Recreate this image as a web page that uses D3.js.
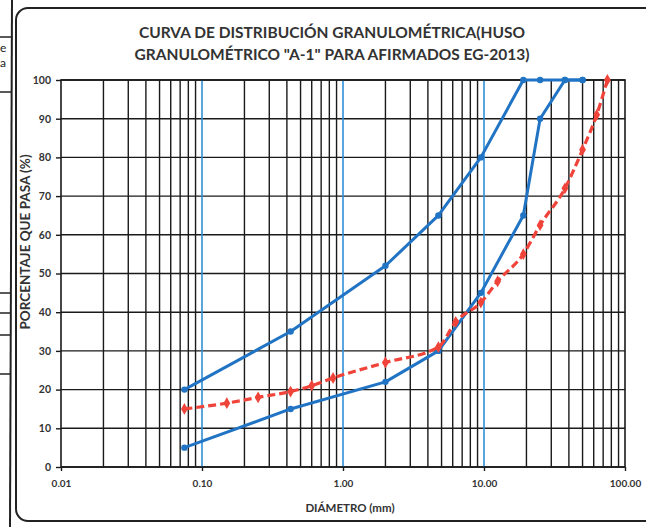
<!DOCTYPE html>
<html>
<head>
<meta charset="utf-8">
<script src="https://cdn.jsdelivr.net/npm/d3@7/dist/d3.min.js"></script>
<style>
  html, body { margin: 0; padding: 0; background: #fff; }
  svg { display: block; font-family: Lato, "Open Sans", sans-serif; }
</style>
</head>
<body>
<svg id="chart" width="646" height="527"></svg>
<script>
// Sieve openings (mm) and percent passing
const bandSizes = [0.075, 0.425, 2, 4.75, 9.5, 19, 25, 37.5, 50];
const upperLimit = [20, 35, 52, 65, 80, 100, 100, 100, 100];
const lowerLimit = [5, 15, 22, 30, 45, 65, 90, 100, 100];

const sampleSizes = [0.075, 0.15, 0.25, 0.425, 0.6, 0.85, 2, 4.75, 6.3, 9.5, 12.5, 19, 25, 37.5, 50, 63, 75];
const samplePassing = [15, 16.5, 18, 19.5, 21, 23, 27, 31, 37.5, 42.5, 48, 55, 62.5, 72, 82, 91, 100];

const xTickValues = [0.01, 0.1, 1, 10, 100];
const xTickLabels = ["0.01", "0.10", "1.00", "10.00", "100.00"];
const yTickValues = [0, 10, 20, 30, 40, 50, 60, 70, 80, 90, 100];

const titleLines = ["CURVA DE DISTRIBUCIÓN GRANULOMÉTRICA(HUSO", "GRANULOMÉTRICO \"A-1\" PARA AFIRMADOS EG-2013)"];

const svg = d3.select("#chart");
const plot = { left: 61, right: 625, top: 80, bottom: 467 };

const x = d3.scaleLog().domain([0.01, 100]).range([plot.left, plot.right]);
const y = d3.scaleLinear().domain([0, 100]).range([plot.bottom, plot.top]);

// Fragment of the neighbouring table on the left
const side = svg.append("g").attr("stroke", "#222").attr("fill", "none");
side.append("line").attr("x1", 12).attr("x2", 10).attr("y1", 0).attr("y2", 527).attr("stroke-width", 2);
[37, 92, 293, 313, 335, 374].forEach(v => {
  side.append("line").attr("x1", 0).attr("x2", 11).attr("y1", v).attr("y2", v).attr("stroke-width", 1.5);
});
svg.append("text").attr("x", 0).attr("y", 52).attr("font-size", 12).attr("fill", "#222").text("e");
svg.append("text").attr("x", 0).attr("y", 67).attr("font-size", 12).attr("fill", "#222").text("a");

// Chart frame
svg.append("rect")
  .attr("x", 16).attr("y", 8).attr("width", 700).attr("height", 513)
  .attr("rx", 12).attr("fill", "none").attr("stroke", "#222").attr("stroke-width", 2);

// Title
svg.append("g").selectAll("text").data(titleLines).join("text")
  .attr("x", 332).attr("y", (d, i) => 38 + i * 22)
  .attr("text-anchor", "middle")
  .attr("font-size", 15.5).attr("font-weight", "bold").attr("fill", "#333")
  .text(d => d);

// Grid: log minor lines and horizontal lines every 10 %
const minor = [];
for (let e = -2; e < 2; e++) {
  for (let m = 2; m <= 9; m++) minor.push(m * Math.pow(10, e));
}
const grid = svg.append("g").attr("stroke", "#1a1a1a").attr("stroke-width", 1.4);
grid.selectAll(".vx").data(minor).join("line")
  .attr("x1", d => x(d)).attr("x2", d => x(d))
  .attr("y1", plot.top).attr("y2", plot.bottom);
grid.selectAll(".hy").data(yTickValues).join("line")
  .attr("x1", plot.left).attr("x2", plot.right)
  .attr("y1", d => y(d)).attr("y2", d => y(d));

// Decade lines
svg.append("g").attr("stroke", "#2f8fd8").attr("stroke-width", 1.6)
  .selectAll("line").data([0.1, 1, 10]).join("line")
  .attr("x1", d => x(d)).attr("x2", d => x(d))
  .attr("y1", plot.top).attr("y2", plot.bottom);

// Plot border
svg.append("rect")
  .attr("x", plot.left).attr("y", plot.top)
  .attr("width", plot.right - plot.left).attr("height", plot.bottom - plot.top)
  .attr("fill", "none").attr("stroke", "#1a1a1a").attr("stroke-width", 1.6);

// Axes
const yAxis = d3.axisLeft(y).tickValues(yTickValues).tickSize(5).tickPadding(5);
const gy = svg.append("g").attr("transform", `translate(${plot.left},0)`).call(yAxis);
gy.select(".domain").remove();
gy.selectAll("line").attr("stroke", "#1a1a1a").attr("stroke-width", 1.4);
gy.selectAll("text").attr("font-size", 10.5).attr("font-weight", "bold").attr("fill", "#333")
  .attr("font-family", "Lato, 'Open Sans', sans-serif");

const xAxis = d3.axisBottom(x).tickValues(xTickValues)
  .tickFormat((d, i) => xTickLabels[i]).tickSize(4).tickPadding(9);
const gx = svg.append("g").attr("transform", `translate(0,${plot.bottom})`).call(xAxis);
gx.select(".domain").remove();
gx.selectAll("line").attr("stroke", "#1a1a1a").attr("stroke-width", 1.4);
gx.selectAll("text").attr("font-size", 10).attr("font-weight", "bold").attr("fill", "#333")
  .attr("font-family", "Lato, 'Open Sans', sans-serif");

// Axis titles
svg.append("text")
  .attr("transform", `translate(27,242) rotate(-90)`)
  .attr("text-anchor", "middle").attr("dominant-baseline", "middle")
  .attr("font-size", 13.5).attr("font-weight", "bold").attr("fill", "#333")
  .text("PORCENTAJE QUE PASA (%)");
svg.append("text")
  .attr("x", 350).attr("y", 512)
  .attr("text-anchor", "middle").attr("font-size", 11.5).attr("font-weight", "bold").attr("fill", "#333")
  .text("DIÁMETRO (mm)");

// Gradation band limits
const blue = "#2174c4";
const bandLine = d3.line().x(d => x(d[0])).y(d => y(d[1]));
[upperLimit, lowerLimit].forEach(series => {
  const pts = bandSizes.map((s, i) => [s, series[i]]);
  svg.append("path").datum(pts)
    .attr("d", bandLine).attr("fill", "none")
    .attr("stroke", blue).attr("stroke-width", 3).attr("stroke-linejoin", "round");
  svg.append("g").selectAll("circle").data(pts).join("circle")
    .attr("cx", d => x(d[0])).attr("cy", d => y(d[1])).attr("r", 3.2).attr("fill", blue);
});

// Sample curve
const red = "#f0443a";
const samplePts = sampleSizes.map((s, i) => [s, samplePassing[i]]);
const sampleLine = d3.line().x(d => x(d[0])).y(d => y(d[1])).curve(d3.curveMonotoneX);
svg.append("path").datum(samplePts)
  .attr("d", sampleLine).attr("fill", "none")
  .attr("stroke", red).attr("stroke-width", 3.2).attr("stroke-dasharray", "8,4");
svg.append("g").selectAll("path").data(samplePts).join("path")
  .attr("transform", d => `translate(${x(d[0])},${y(d[1])})`)
  .attr("d", d3.symbol(d3.symbolDiamond, 40))
  .attr("fill", red);
</script>
</body>
</html>
